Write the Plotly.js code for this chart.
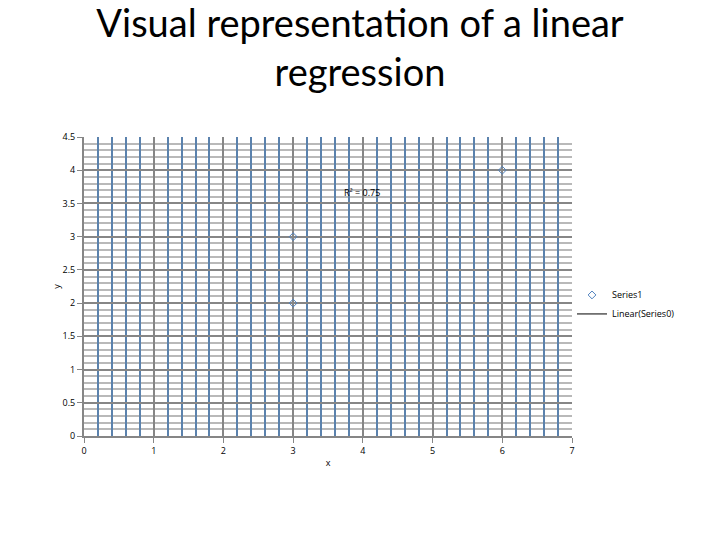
<!DOCTYPE html>
<html>
<head>
<meta charset="utf-8">
<script src="https://cdn.plot.ly/plotly-3.0.1.min.js"></script>
<style>html,body{margin:0;padding:0;background:#fff}#chart{width:720px;height:540px}</style>
</head>
<body>
<div id="chart"></div>
<script>
const xValues = [3, 3, 6];
const yValues = [3, 2, 4];
const seriesName = "Series1";
const trendName = "Linear(Series0)";
const r2Label = "R² = 0.75";
const xTicks = [0, 1, 2, 3, 4, 5, 6, 7];
const yTicks = [0, 0.5, 1, 1.5, 2, 2.5, 3, 3.5, 4, 4.5];

const traces = [
  {
    x: xValues, y: yValues, name: seriesName, type: "scatter", mode: "markers",
    marker: {symbol: "diamond-open", size: 6, color: "#4f81bd", line: {width: 1, color: "#4f81bd"}},
    cliponaxis: false
  },
  {
    x: [null], y: [null], name: trendName, type: "scatter", mode: "lines",
    line: {color: "#000000", width: 1}
  },
  {
    x: [null], y: [null], xaxis: "x2", yaxis: "y", type: "scatter", mode: "lines",
    showlegend: false, hoverinfo: "skip"
  }
];

const layout = {
  width: 720, height: 540,
  paper_bgcolor: "#ffffff", plot_bgcolor: "#ffffff",
  margin: {l: 84, r: 148, t: 137, b: 104},
  font: {family: "Open Sans, sans-serif", size: 9, color: "#000"},
  title: {
    text: "Visual representation of a linear<br>regression",
    font: {family: "Lato, sans-serif", size: 38, color: "#000"},
    x: 0.5, xanchor: "center", yref: "container", y: 0.932, yanchor: "top"
  },
  showlegend: true,
  legend: {x: 1.0, y: 0.44, xanchor: "left", yanchor: "middle", font: {size: 9}, bgcolor: "rgba(0,0,0,0)", itemwidth: 30},
  xaxis: {
    range: [0, 7], dtick: 0.2, tick0: 0,
    showticklabels: false, ticks: "", showline: false, zeroline: false,
    showgrid: true, gridcolor: "#5b82ad", gridwidth: 2
  },
  xaxis2: {
    overlaying: "x", matches: "x", side: "bottom",
    range: [0, 7], tickvals: xTicks, ticktext: xTicks.map(String),
    showline: true, linecolor: "#868686", linewidth: 2,
    ticks: "outside", ticklen: 5, tickcolor: "#868686", tickwidth: 1,
    showgrid: true, gridcolor: "#868686", gridwidth: 2,
    zeroline: false,
    title: {text: "x", font: {size: 9}, standoff: 4}
  },
  yaxis: {
    range: [0, 4.5], tickvals: yTicks, ticktext: yTicks.map(String),
    showline: true, linecolor: "#868686", linewidth: 2,
    ticks: "outside", ticklen: 5, tickcolor: "#868686", tickwidth: 1,
    showgrid: true, gridcolor: "#868686", gridwidth: 2,
    zeroline: false,
    minor: {dtick: 0.1, showgrid: true, gridcolor: "#b9b9b9", gridwidth: 2},
    title: {text: "y", font: {size: 9}, standoff: 0}
  },
  annotations: [
    {x: 3.99, y: 3.66, xref: "x", yref: "y", text: r2Label, showarrow: false, font: {size: 9, color: "#000"}}
  ]
};

Plotly.newPlot("chart", traces, layout, {displayModeBar: false, staticPlot: true});
</script>
</body>
</html>
